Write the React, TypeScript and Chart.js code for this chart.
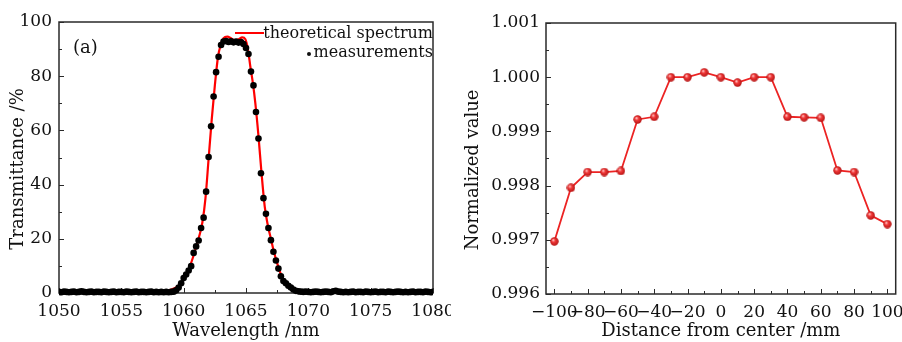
import { useEffect, useRef } from 'react';
import { Chart, registerables } from 'chart.js';

Chart.register(...registerables);

const FONT = '"DejaVu Serif", serif';

// ---------- Panel (a) ----------
const theoryWavelength = [
  1050, 1052, 1054, 1056, 1057, 1057.5, 1058, 1058.5, 1059, 1059.5, 1060, 1060.25, 1060.5, 1060.75,
  1061, 1061.25, 1061.5, 1061.75, 1062, 1062.25, 1062.5, 1062.75, 1063, 1063.2, 1063.5, 1063.8,
  1064.1, 1064.4, 1064.7, 1064.95, 1065.15, 1065.35, 1065.55, 1065.75, 1066, 1066.25, 1066.5,
  1066.75, 1067, 1067.25, 1067.5, 1067.75, 1068, 1068.5, 1069, 1069.5, 1070, 1072, 1075, 1080,
];
const theoryTransmittance = [
  0, 0, 0, 0, 0.05, 0.15, 0.4, 0.8, 1.3, 2.4, 5.0, 7.0, 9.8, 13.2,
  17.0, 21.0, 26.0, 35.0, 49.5, 64.0, 76.5, 87.0, 92.0, 94.0, 94.6, 94.0,
  93.2, 93.6, 94.3, 93.6, 90.0, 83.5, 77.5, 70.0, 58.0, 44.0, 32.0,
  25.0, 20.0, 15.0, 11.0, 7.5, 4.8, 1.8, 0.6, 0.15, 0, 0, 0, 0,
];

const measWavelength = [
  1050.0, 1050.2, 1050.4, 1050.6, 1050.8, 1051.0, 1051.2, 1051.4, 1051.6, 1051.8,
  1052.0, 1052.2, 1052.4, 1052.6, 1052.8, 1053.0, 1053.2, 1053.4, 1053.6, 1053.8,
  1054.0, 1054.2, 1054.4, 1054.6, 1054.8, 1055.0, 1055.2, 1055.4, 1055.6, 1055.8,
  1056.0, 1056.2, 1056.4, 1056.6, 1056.8, 1057.0, 1057.2, 1057.4, 1057.6, 1057.8,
  1058.0, 1058.2, 1058.4, 1058.6, 1058.8,
  1059.0, 1059.2, 1059.4, 1059.6, 1059.8, 1060.0, 1060.2, 1060.4, 1060.6, 1060.8,
  1061.0, 1061.2, 1061.4, 1061.6, 1061.8, 1062.0, 1062.2, 1062.4, 1062.6, 1062.8,
  1063.0, 1063.2, 1063.4, 1063.6, 1063.8, 1064.0, 1064.2, 1064.4, 1064.6, 1064.8,
  1065.0, 1065.2, 1065.4, 1065.6, 1065.8, 1066.0, 1066.2, 1066.4, 1066.6, 1066.8,
  1067.0, 1067.2, 1067.4, 1067.6, 1067.8, 1068.0, 1068.2, 1068.4, 1068.6, 1068.8,
  1069.0, 1069.2, 1069.4,
  1069.6, 1069.8, 1070.0, 1070.2, 1070.4, 1070.6, 1070.8, 1071.0, 1071.2, 1071.4,
  1071.6, 1071.8, 1072.0, 1072.2, 1072.4, 1072.6, 1072.8, 1073.0, 1073.2, 1073.4,
  1073.6, 1073.8, 1074.0, 1074.2, 1074.4, 1074.6, 1074.8, 1075.0, 1075.2, 1075.4,
  1075.6, 1075.8, 1076.0, 1076.2, 1076.4, 1076.6, 1076.8, 1077.0, 1077.2, 1077.4,
  1077.6, 1077.8, 1078.0, 1078.2, 1078.4, 1078.6, 1078.8, 1079.0, 1079.2, 1079.4,
  1079.6, 1079.8, 1080.0,
];
const measTransmittance = [
  0.4, 0.3, 0.5, 0.4, 0.3, 0.4, 0.5, 0.3, 0.4, 0.6,
  0.4, 0.3, 0.4, 0.5, 0.3, 0.4, 0.4, 0.3, 0.5, 0.4,
  0.3, 0.4, 0.5, 0.3, 0.4, 0.4, 0.3, 0.5, 0.4, 0.3,
  0.4, 0.5, 0.3, 0.4, 0.4, 0.3, 0.4, 0.5, 0.3, 0.4,
  0.3, 0.4, 0.3, 0.4, 0.3,
  0.4, 0.5, 1.0, 2.0, 3.6, 5.5, 6.8, 8.3, 9.9, 14.8,
  17.2, 19.4, 24.0, 27.8, 37.4, 50.2, 61.5, 72.5, 81.5, 87.2,
  91.5, 92.8, 93.0, 92.6, 92.9, 92.5, 92.8, 92.4, 92.6, 91.9,
  90.4, 88.2, 81.7, 76.6, 66.8, 57.0, 44.2, 35.0, 29.2, 24.0,
  19.5, 15.2, 12.0, 9.0, 6.2, 4.4, 3.6, 2.7, 2.0, 1.3,
  0.8, 0.6, 0.5,
  0.4, 0.5, 0.4, 0.3, 0.4, 0.5, 0.4, 0.3, 0.4, 0.5,
  0.4, 0.3, 0.6, 0.8, 0.5, 0.4, 0.3, 0.4, 0.3, 0.4,
  0.5, 0.3, 0.4, 0.4, 0.3, 0.5, 0.4, 0.3, 0.4, 0.5,
  0.3, 0.4, 0.4, 0.3, 0.5, 0.4, 0.3, 0.4, 0.5, 0.4,
  0.3, 0.4, 0.3, 0.4, 0.5, 0.3, 0.4, 0.4, 0.3, 0.5,
  0.4, 0.3, 0.4,
];

const aXMajor = [1050, 1055, 1060, 1065, 1070, 1075, 1080];
const aXMinor = [1052.5, 1057.5, 1062.5, 1067.5, 1072.5, 1077.5];
const aYMajor = [0, 20, 40, 60, 80, 100];
const aYMinor = [10, 30, 50, 70, 90];

// ---------- Panel (b) ----------
const distance = [-100, -90, -80, -70, -60, -50, -40, -30, -20, -10, 0, 10, 20, 30, 40, 50, 60, 70, 80, 90, 100];
const normalized = [
  0.99697, 0.99796, 0.99825, 0.99825, 0.99827, 0.99922, 0.99927, 1.0, 1.0, 1.00009, 1.0,
  0.9999, 1.0, 1.0, 0.99927, 0.99926, 0.99925, 0.99828, 0.99825, 0.99745, 0.99729,
];
const bXMajor = [-100, -80, -60, -40, -20, 0, 20, 40, 60, 80, 100];
const bXMinor = [-90, -70, -50, -30, -10, 10, 30, 50, 70, 90];
const bYMajor = [0.996, 0.997, 0.998, 0.999, 1.0, 1.001];
const bYMinor = [0.9965, 0.9975, 0.9985, 0.9995, 1.0005];

function framePlugin(xMajor: number[], xMinor: number[], yMajor: number[], yMinor: number[], tag: string) {
  return {
    id: 'frame' + tag,
    beforeDatasetsDraw(chart: any) {
      const { ctx, chartArea, scales } = chart;
      const { left, right, top, bottom } = chartArea;
      ctx.save();
      ctx.strokeStyle = '#2a2a2a';
      ctx.lineWidth = 1.5;
      ctx.strokeRect(left, top, right - left, bottom - top);
      ctx.lineWidth = 1;
      ctx.beginPath();
      const xt = (vals: number[], len: number) => {
        vals.forEach((v) => {
          const px = Math.round(scales.x.getPixelForValue(v)) + 0.5;
          ctx.moveTo(px, bottom);
          ctx.lineTo(px, bottom - len);
        });
      };
      const yt = (vals: number[], len: number) => {
        vals.forEach((v) => {
          const py = Math.round(scales.y.getPixelForValue(v)) + 0.5;
          ctx.moveTo(left, py);
          ctx.lineTo(left + len, py);
        });
      };
      xt(xMajor, 5);
      xt(xMinor, 3);
      yt(yMajor, 5);
      yt(yMinor, 3);
      ctx.stroke();
      ctx.restore();
    },
  };
}

function panelLabelPlugin(text: string, x: number, y: number, tag: string) {
  return {
    id: 'plabel' + tag,
    afterDraw(chart: any) {
      const ctx = chart.ctx;
      ctx.save();
      ctx.fillStyle = '#111';
      ctx.font = '18px ' + FONT;
      ctx.textAlign = 'left';
      ctx.textBaseline = 'middle';
      ctx.fillText(text, x, y);
      ctx.restore();
    },
  };
}

const legendAPlugin = {
  id: 'legendA',
  afterDraw(chart: any) {
    const ctx = chart.ctx;
    const right = chart.chartArea.right;
    ctx.save();
    ctx.strokeStyle = '#ff0000';
    ctx.lineWidth = 2;
    ctx.beginPath();
    ctx.moveTo(235, 33);
    ctx.lineTo(264, 33);
    ctx.stroke();
    ctx.fillStyle = '#111';
    ctx.font = '16px ' + FONT;
    ctx.textAlign = 'right';
    ctx.textBaseline = 'middle';
    ctx.fillText('theoretical spectrum', right, 34);
    ctx.fillText('measurements', right, 53);
    ctx.beginPath();
    ctx.arc(309, 54, 2, 0, Math.PI * 2);
    ctx.fill();
    ctx.restore();
  },
};

const tickFont = { family: FONT, size: 17 };
const titleFont = { family: FONT, size: 18 };
const plain = (v: any) => String(v);
const minus = (v: any) => String(v).replace('-', '\u2212');

function makeBall() {
  const c = document.createElement('canvas');
  const s = 9;
  c.width = s;
  c.height = s;
  const g = c.getContext('2d')!;
  const grad = g.createRadialGradient(3.2, 3.0, 0.3, 4.5, 4.5, 4.5);
  grad.addColorStop(0, '#ffc8c8');
  grad.addColorStop(0.35, '#f23a3a');
  grad.addColorStop(1, '#b01010');
  g.fillStyle = grad;
  g.beginPath();
  g.arc(4.5, 4.5, 4.2, 0, Math.PI * 2);
  g.fill();
  return c;
}

export default function App() {
  const refA = useRef<HTMLCanvasElement>(null);
  const refB = useRef<HTMLCanvasElement>(null);

  useEffect(() => {
    const chartA = new Chart(refA.current!, {
      type: 'scatter',
      data: {
        datasets: [
          {
            label: 'measurements',
            data: measWavelength.map((x, i) => ({ x, y: measTransmittance[i] })),
            showLine: false,
            pointRadius: 3.3,
            pointBackgroundColor: '#000',
            pointBorderWidth: 0,
            order: 0,
            clip: { left: 0, right: 0, top: 6, bottom: 6 },
          } as any,
          {
            label: 'theoretical spectrum',
            data: theoryWavelength.map((x, i) => ({ x, y: theoryTransmittance[i] })),
            showLine: true,
            pointRadius: 0,
            borderColor: '#ff0000',
            borderWidth: 2.2,
            cubicInterpolationMode: 'monotone',
            order: 1,
            clip: { left: 0, right: 0, top: 6, bottom: 6 },
          } as any,
        ],
      },
      options: {
        animation: false,
        responsive: false,
        devicePixelRatio: 1,
        events: [],
        layout: { padding: { top: 22, right: 18, left: 0, bottom: 0 } },
        plugins: { legend: { display: false }, tooltip: { enabled: false } },
        scales: {
          x: {
            type: 'linear',
            min: 1050,
            max: 1080,
            grid: { display: false, drawTicks: false },
            border: { display: false },
            ticks: { font: tickFont, color: '#111', padding: 8, autoSkip: false, maxRotation: 0, callback: plain },
            title: { display: true, text: 'Wavelength /nm', font: titleFont, color: '#111', padding: { top: 0, bottom: 0 } },
            afterBuildTicks: (s: any) => { s.ticks = aXMajor.map((v) => ({ value: v })); },
            afterFit: (s: any) => { s.height = 49; s.paddingLeft = 0; s.paddingRight = 0; },
          },
          y: {
            type: 'linear',
            min: 0,
            max: 100,
            grid: { display: false, drawTicks: false },
            border: { display: false },
            ticks: { font: tickFont, color: '#111', padding: 7, callback: plain },
            title: { display: true, text: 'Transmittance /%    ', font: titleFont, color: '#111', padding: { top: 8, bottom: 0 } },
            afterBuildTicks: (s: any) => { s.ticks = aYMajor.map((v) => ({ value: v })); },
            afterFit: (s: any) => { s.width = 59; s.paddingTop = 0; s.paddingBottom = 0; },
          },
        },
      } as any,
      plugins: [framePlugin(aXMajor, aXMinor, aYMajor, aYMinor, 'A'), panelLabelPlugin('(a)', 73, 48, 'A'), legendAPlugin],
    });

    const ball = makeBall();
    const chartB = new Chart(refB.current!, {
      type: 'line',
      data: {
        datasets: [
          {
            label: 'normalized',
            data: distance.map((x, i) => ({ x, y: normalized[i] })),
            borderColor: '#ec2323',
            borderWidth: 1.8,
            pointStyle: ball,
            pointRadius: 4.5,
            tension: 0,
            clip: false,
          } as any,
        ],
      },
      options: {
        animation: false,
        responsive: false,
        devicePixelRatio: 1,
        events: [],
        layout: { padding: { top: 23, right: 6, left: 0, bottom: 0 } },
        plugins: { legend: { display: false }, tooltip: { enabled: false } },
        scales: {
          x: {
            type: 'linear',
            min: -105,
            max: 105,
            grid: { display: false, drawTicks: false },
            border: { display: false },
            ticks: { font: tickFont, color: '#111', padding: 8, autoSkip: false, maxRotation: 0, callback: minus },
            title: { display: true, text: 'Distance from center /mm', font: titleFont, color: '#111', padding: { top: 0, bottom: 0 } },
            afterBuildTicks: (s: any) => { s.ticks = bXMajor.map((v) => ({ value: v })); },
            afterFit: (s: any) => { s.height = 48; s.paddingLeft = 0; s.paddingRight = 0; },
          },
          y: {
            type: 'linear',
            min: 0.996,
            max: 1.001,
            grid: { display: false, drawTicks: false },
            border: { display: false },
            ticks: { font: tickFont, color: '#111', padding: 6, callback: (v: any) => Number(v).toFixed(3) },
            title: { display: true, text: 'Normalized value    ', font: titleFont, color: '#111', padding: { top: 12, bottom: 0 } },
            afterBuildTicks: (s: any) => { s.ticks = bYMajor.map((v) => ({ value: v })); },
            afterFit: (s: any) => { s.width = 95; s.paddingTop = 0; s.paddingBottom = 0; },
          },
        },
      } as any,
      plugins: [framePlugin(bXMajor, bXMinor, bYMajor, bYMinor, 'B'), panelLabelPlugin('(b)', 557, 47, 'B')],
    });

    return () => {
      chartA.destroy();
      chartB.destroy();
    };
  }, []);

  return (
    <div style={{ position: 'fixed', left: 0, top: 0, width: 902, height: 342, background: '#fff', overflow: 'hidden' }}>
      <canvas ref={refA} width={451} height={342} style={{ position: 'absolute', left: 0, top: 0, width: 451, height: 342 }} />
      <canvas ref={refB} width={451} height={342} style={{ position: 'absolute', left: 451, top: 0, width: 451, height: 342 }} />
    </div>
  );
}
